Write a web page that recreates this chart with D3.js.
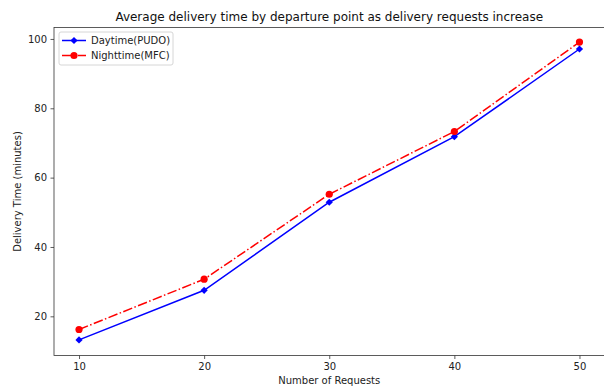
<!DOCTYPE html>
<html>
<head>
<meta charset="utf-8">
<script src="https://cdn.jsdelivr.net/npm/d3@7"></script>
<style>
  body { margin: 0; background: #fff; }
  svg { display: block; font-family: "DejaVu Sans", sans-serif; }
</style>
</head>
<body>
<svg id="chart" width="604" height="386"></svg>
<script>
// data
var requests = [10, 20, 30, 40, 50]
var daytime = [13.2, 27.5, 52.9, 71.8, 97.1]
var nighttime = [16.2, 30.7, 55.2, 73.3, 99.1]
var xTicks = [10, 20, 30, 40, 50]
var yTicks = [20, 40, 60, 80, 100]
var seriesNames = ["Daytime(PUDO)", "Nighttime(MFC)"]

// plot area (note: "top" is taken by window.top, so use other names)
var plotLeft = 54, plotRight = 604.5, plotTop = 27.5, plotBottom = 355.5
var svg = d3.select("#chart")

var x = d3.scaleLinear().domain([8, 52]).range([plotLeft, plotRight])
var y = d3.scaleLinear().domain([8.7, 103.3]).range([plotBottom, plotTop])

// axes
svg.append("g")
	.attr("transform", "translate(0," + plotBottom + ")")
	.call(d3.axisBottom(x).tickValues(xTicks).tickSize(3.5).tickPadding(3.5))
svg.append("g")
	.attr("transform", "translate(" + plotLeft + ",0)")
	.call(d3.axisLeft(y).tickValues(yTicks).tickSize(3.5).tickPadding(3.5))
svg.selectAll(".tick text")
	.style("font-family", "DejaVu Sans")
	.attr("font-size", "10px")
	.attr("fill", "#222")
svg.selectAll(".domain").remove()
svg.selectAll(".tick line").attr("stroke", "#333").attr("stroke-width", 0.8)

// frame
svg.append("rect")
	.attr("x", plotLeft).attr("y", plotTop)
	.attr("width", plotRight - plotLeft).attr("height", plotBottom - plotTop)
	.attr("fill", "none").attr("stroke", "#333").attr("stroke-width", 0.8)

var line = d3.line().x((d, i) => x(requests[i])).y(d => y(d))

svg.append("path").datum(daytime)
	.attr("d", line).attr("fill", "none")
	.attr("stroke", "blue").attr("stroke-width", 1.5)
svg.append("path").datum(nighttime)
	.attr("d", line).attr("fill", "none")
	.attr("stroke", "red").attr("stroke-width", 1.5)
	.attr("stroke-dasharray", "9.6,2.4,1.5,2.4")

var diamond = d3.symbol().type(d3.symbolSquare).size(26)
svg.append("g").selectAll("path").data(daytime).enter().append("path")
	.attr("d", diamond)
	.attr("transform", (d, i) => "translate(" + x(requests[i]) + "," + y(d) + ") rotate(45)")
	.attr("fill", "blue")
svg.append("g").selectAll("circle").data(nighttime).enter().append("circle")
	.attr("cx", (d, i) => x(requests[i]))
	.attr("cy", d => y(d))
	.attr("r", 3.6)
	.attr("fill", "red")

// titles
svg.append("text")
	.attr("x", (plotLeft + plotRight) / 2).attr("y", 21)
	.attr("text-anchor", "middle").attr("font-size", "12px").attr("fill", "#111")
	.text("Average delivery time by departure point as delivery requests increase")
svg.append("text")
	.attr("x", (plotLeft + plotRight) / 2).attr("y", 384)
	.attr("text-anchor", "middle").attr("font-size", "10px").attr("fill", "#222")
	.text("Number of Requests")
svg.append("text")
	.attr("transform", "translate(21," + (plotTop + plotBottom) / 2 + ") rotate(-90)")
	.attr("text-anchor", "middle").attr("font-size", "10px").attr("fill", "#222")
	.text("Delivery Time (minutes)")

// legend
var legend = svg.append("g")
legend.append("rect")
	.attr("x", 59).attr("y", 32).attr("width", 114).attr("height", 33)
	.attr("rx", 2).attr("fill", "white").attr("fill-opacity", 0.8)
	.attr("stroke", "#ccc").attr("stroke-width", 0.8)
legend.append("line")
	.attr("x1", 62).attr("x2", 86).attr("y1", 40.5).attr("y2", 40.5)
	.attr("stroke", "blue").attr("stroke-width", 1.5)
legend.append("path")
	.attr("d", diamond)
	.attr("transform", "translate(74,40.5) rotate(45)")
	.attr("fill", "blue")
legend.append("line")
	.attr("x1", 62).attr("x2", 86).attr("y1", 55.5).attr("y2", 55.5)
	.attr("stroke", "red").attr("stroke-width", 1.5)
	.attr("stroke-dasharray", "9.6,2.4,1.5,2.4")
legend.append("circle")
	.attr("cx", 74).attr("cy", 55.5).attr("r", 3.6).attr("fill", "red")
legend.selectAll("text.lab").data(seriesNames).enter().append("text")
	.attr("class", "lab")
	.attr("x", 91).attr("y", (d, i) => 44 + i * 15)
	.attr("font-size", "10px").attr("fill", "#222")
	.text(d => d)
</script>
</body>
</html>
